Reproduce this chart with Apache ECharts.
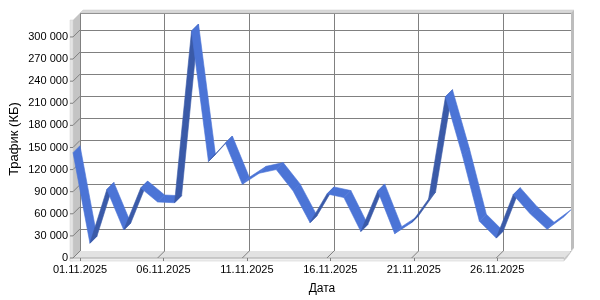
<!DOCTYPE html>
<html><head><meta charset="utf-8">
<script src="https://cdn.jsdelivr.net/npm/echarts@6/dist/echarts.min.js"></script>
<style>html,body{margin:0;padding:0;background:#fff}#c{width:600px;height:300px}</style>
</head><body><div id="c"></div>
<script>
// ---- data ----
const dates = ['01.11.2025','02.11.2025','03.11.2025','04.11.2025','05.11.2025','06.11.2025','07.11.2025','08.11.2025','09.11.2025','10.11.2025',
  '11.11.2025','12.11.2025','13.11.2025','14.11.2025','15.11.2025','16.11.2025','17.11.2025','18.11.2025','19.11.2025','20.11.2025',
  '21.11.2025','22.11.2025','23.11.2025','24.11.2025','25.11.2025','26.11.2025','27.11.2025','28.11.2025','29.11.2025','30.11.2025'];
const traffic = [143000, 20000, 93000, 38000, 95000, 76000, 75000, 308000, 131000, 156000,
  100000, 115000, 120000, 91000, 48000, 87000, 82000, 36000, 91000, 33000,
  48000, 80000, 219000, 139000, 50000, 27000, 86000, 60000, 39000, 56000];
const yMax = 323000;
const yStep = 30000;
const yTicks = [0, 30000, 60000, 90000, 120000, 150000, 180000, 210000, 240000, 270000, 300000];
const labelEvery = 5;

// ---- layout / style ----
const BACK = {left: 80, top: 13, right: 571, bottom: 251};
const DX = -7, DY = 7;           // front plane offset from back wall
const FONT = '"Liberation Sans", Arial, sans-serif';
const GRID_C = '#808080';
const LIGHT = '#4b74d6', DARK = '#3a5aa8';

const fmt = v => String(v).replace(/\B(?=(\d{3})+(?!\d))/g, ' ');
const segs = traffic.slice(0, -1).map((v, i) => [i, v, traffic[i + 1]]);

function renderItem(params, api) {
  const a = api.coord([api.value(0), api.value(1)]);
  const b = api.coord([api.value(0) + 1, api.value(2)]);
  const sx = b[0] - a[0], sy = b[1] - a[1];
  const c = (sx + sy) > 0 ? LIGHT : DARK;
  const pts = [a, b, [b[0] + DX, b[1] + DY], [a[0] + DX, a[1] + DY]];
  return {type: 'polygon', shape: {points: pts}, style: {fill: c, stroke: c, lineWidth: 0.6}};
}

const W = BACK.right - BACK.left, H = BACK.bottom - BACK.top;
const chart = echarts.init(document.getElementById('c'), null, {renderer: 'canvas'});
chart.setOption({
  animation: false,
  backgroundColor: '#fff',
  grid: [
    {left: BACK.left, top: BACK.top, width: W, height: H},
    {left: BACK.left + DX, top: BACK.top + DY, width: W, height: H}
  ],
  xAxis: [
    {type: 'category', gridIndex: 0, data: dates, boundaryGap: false,
     axisLine: {show: false}, axisTick: {show: false}, axisLabel: {show: false},
     splitLine: {show: true, interval: labelEvery - 1, lineStyle: {color: GRID_C, width: 1}}},
    {type: 'category', gridIndex: 1, data: dates, boundaryGap: false, z: 5,
     axisLine: {show: false},
     axisTick: {show: true, interval: labelEvery - 1, length: 3, lineStyle: {color: GRID_C}},
     axisLabel: {interval: labelEvery - 1, margin: 6, color: '#000', fontSize: 11, fontFamily: FONT},
     splitLine: {show: false},
     name: 'Дата', nameLocation: 'middle', nameGap: 25,
     nameTextStyle: {color: '#000', fontSize: 12, fontFamily: FONT}}
  ],
  yAxis: [
    {type: 'value', gridIndex: 0, min: 0, max: yMax, interval: yStep,
     axisLine: {show: false}, axisTick: {show: false}, axisLabel: {show: false},
     splitLine: {show: true, lineStyle: {color: GRID_C, width: 1}}},
    {type: 'value', gridIndex: 1, min: 0, max: yMax, interval: yStep, z: 5,
     axisLine: {show: false},
     axisTick: {show: false},
     axisLabel: {showMaxLabel: false, formatter: fmt, margin: 12, align: 'right', color: '#000', fontSize: 11, fontFamily: FONT},
     splitLine: {show: false},
     name: 'Трафик (КБ)', nameLocation: 'middle', nameGap: 59, nameRotate: 90, nameMoveOverlap: false,
     nameTextStyle: {color: '#000', fontSize: 13, fontFamily: FONT}}
  ],
  series: [{type: 'custom', xAxisIndex: 0, yAxisIndex: 0, data: segs, renderItem: renderItem, z: 10, clip: false}]
});

// ---- 3D frame decoration ----
const L = BACK.left, R = BACK.right, T = BACK.top, B = BACK.bottom;
const els = [
  {type: 'polygon', shape: {points: [[L, T], [R, T], [R + 3, T - 3], [L + 3, T - 3]]}, style: {fill: '#d8d8d8', stroke: '#c8c8c8', lineWidth: 0.5}, z: 1},
  {type: 'polygon', shape: {points: [[R, T], [R + 3, T - 3], [R + 3, B - 3], [R, B]]}, style: {fill: '#bdbdbd'}, z: 1},
  {type: 'polygon', shape: {points: [[L, T], [L, B], [L + DX, B + DY], [L + DX, T + DY]]}, style: {fill: '#c4c4c4'}, z: 1},
  {type: 'polygon', shape: {points: [[L + DX, T + DY], [L + 3, T - 3], [L, T]]}, style: {fill: '#d0d0d0'}, z: 1},
  {type: 'rect', shape: {x: L + DX - 3, y: T + DY, width: 3, height: H + 3}, style: {fill: '#e4e4e4', stroke: '#d0d0d0', lineWidth: 0.5}, z: 1},
  {type: 'polygon', shape: {points: [[L, B], [R, B], [R + DX, B + DY], [L + DX, B + DY]]}, style: {fill: '#e2e2e2'}, z: 1},
  {type: 'polygon', shape: {points: [[R, B], [R + 3, B - 3], [R + DX + 3, B + DY], [R + DX, B + DY + 3], [R + DX, B + DY]]}, style: {fill: '#c8c8c8'}, z: 1},
  {type: 'rect', shape: {x: L + DX - 3, y: B + DY, width: W + 3, height: 3}, style: {fill: '#efefef', stroke: '#c8c8c8', lineWidth: 0.5}, z: 1},
  {type: 'line', shape: {x1: L + DX, y1: B + DY, x2: R + DX, y2: B + DY}, style: {stroke: '#b0b0b0', lineWidth: 1}, z: 2}
];
yTicks.forEach(v => {
  const yb = chart.convertToPixel({yAxisIndex: 0}, v);
  els.push({type: 'line', shape: {x1: L, y1: yb, x2: L + DX, y2: yb + DY}, style: {stroke: GRID_C, lineWidth: 1}, z: 2});
  els.push({type: 'line', shape: {x1: L + DX, y1: yb + DY, x2: L + DX - 3, y2: yb + DY}, style: {stroke: GRID_C, lineWidth: 1}, z: 2});
});
for (let i = 0; i < dates.length; i += labelEvery) {
  const xb = chart.convertToPixel({xAxisIndex: 0}, dates[i]);
  els.push({type: 'line', shape: {x1: xb, y1: B, x2: xb + DX, y2: B + DY}, style: {stroke: GRID_C, lineWidth: 1}, z: 2});
}
chart.setOption({graphic: {elements: els}});
</script>
</body></html>
